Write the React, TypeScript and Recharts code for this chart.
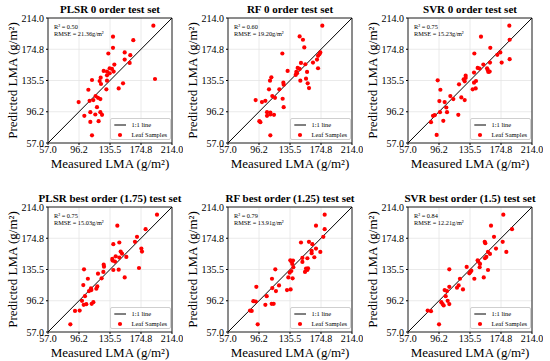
import {
  CartesianGrid,
  Label,
  Legend,
  ReferenceArea,
  ReferenceLine,
  Scatter,
  ScatterChart,
  XAxis,
  YAxis,
} from "recharts";

const FONT = '"Liberation Serif", "Times New Roman", serif';

// Shared axis: 57..214 split in four steps, labels as printed in the figure.
const TICKS = [57, 96.25, 135.5, 174.75, 214];
const TICK_LABELS = ["57.0", "96.2", "135.5", "174.8", "214.0"];

const plsr0Measured = [190.4, 192.5, 165.0, 139.3, 139.3, 154.1, 133.4, 161.2, 154.1, 160.4, 141.0, 135.1, 138.0, 127.5, 131.7, 140.1, 135.1, 131.7, 123.7, 122.4, 112.7, 131.7, 124.1, 152.0, 146.5, 130.9, 108.1, 117.3, 120.3, 123.3, 114.4, 109.7, 95.8, 119.0, 110.6, 123.3, 125.4, 116.9, 103.0, 121.1, 110.6, 112.7];
const plsr0Predicted = [204.4, 137.4, 186.2, 190.5, 176.6, 170.7, 169.4, 167.3, 161.8, 157.6, 155.5, 150.9, 150.0, 147.5, 146.7, 146.7, 144.6, 142.0, 139.1, 134.9, 136.1, 135.3, 131.1, 131.9, 125.6, 124.4, 123.9, 115.9, 113.8, 112.2, 110.9, 110.0, 108.4, 102.0, 95.7, 95.7, 92.4, 92.8, 91.1, 84.4, 83.5, 66.7];

const rf0Measured = [176.4, 147.7, 151.9, 153.6, 125.8, 173.9, 172.7, 171.0, 169.7, 164.6, 149.4, 154.9, 171.0, 145.2, 147.7, 132.5, 143.5, 144.4, 157.1, 142.7, 155.8, 148.6, 157.9, 159.6, 111.9, 110.2, 127.1, 127.5, 122.0, 108.9, 113.1, 116.5, 126.2, 104.3, 100.0, 92.0, 127.5, 106.4, 110.6, 106.4, 115.2, 110.6, 96.7, 98.0, 110.6];
const rf0Predicted = [204.4, 190.9, 186.7, 177.0, 169.4, 170.7, 168.6, 166.5, 161.8, 158.0, 157.6, 155.9, 150.9, 151.3, 150.0, 147.5, 146.3, 144.6, 146.3, 142.5, 137.8, 135.3, 131.9, 126.0, 139.5, 135.3, 132.8, 130.3, 124.4, 124.4, 115.9, 113.8, 112.6, 110.0, 108.4, 110.9, 102.0, 95.7, 95.3, 91.1, 92.4, 92.8, 84.4, 83.1, 66.7];

const svr0Measured = [185.3, 185.7, 185.7, 149.4, 161.2, 141.0, 173.9, 170.1, 175.6, 160.8, 152.4, 145.2, 147.7, 157.1, 157.9, 158.7, 160.4, 140.6, 130.0, 130.0, 127.5, 143.1, 140.6, 128.8, 121.6, 142.7, 138.9, 94.6, 98.0, 110.6, 114.4, 124.5, 128.8, 96.7, 103.4, 105.5, 97.5, 106.4, 90.8, 88.7, 120.7, 101.7, 86.1, 93.3];
const svr0Predicted = [204.4, 186.7, 162.3, 190.5, 176.6, 169.4, 170.7, 167.7, 158.0, 158.0, 155.5, 151.3, 150.5, 150.9, 148.8, 146.3, 146.7, 145.4, 141.6, 138.7, 137.0, 134.9, 132.8, 134.5, 130.7, 125.6, 124.4, 135.7, 123.9, 115.9, 112.2, 114.3, 110.9, 109.6, 108.4, 101.6, 95.7, 95.7, 91.9, 91.1, 92.4, 84.8, 83.1, 67.1];

const plsrBestMeasured = [195.0, 180.6, 144.8, 169.7, 167.1, 147.3, 139.7, 175.2, 176.0, 149.0, 150.7, 142.7, 156.2, 147.3, 138.4, 138.8, 141.8, 127.5, 127.9, 139.7, 146.5, 172.2, 102.6, 154.1, 120.3, 127.1, 124.9, 107.5, 101.7, 119.4, 118.2, 111.4, 111.9, 108.9, 103.8, 100.0, 102.2, 105.5, 112.3, 114.4, 91.2, 97.1, 85.3];
const plsrBestPredicted = [204.4, 186.2, 190.5, 176.6, 170.2, 169.4, 167.3, 161.8, 158.0, 158.0, 155.5, 152.1, 151.3, 150.5, 148.8, 146.7, 145.4, 141.6, 139.1, 134.9, 135.3, 137.4, 135.7, 125.6, 130.3, 132.4, 124.4, 123.9, 115.9, 114.3, 111.3, 111.7, 109.6, 108.4, 102.0, 96.2, 91.1, 91.9, 92.4, 94.5, 83.5, 83.9, 66.7];

const rfBestMeasured = [179.4, 179.4, 168.4, 177.7, 149.4, 159.5, 163.8, 168.4, 162.9, 162.9, 173.9, 166.3, 157.5, 151.2, 151.2, 135.9, 137.2, 139.3, 138.4, 139.7, 135.1, 137.2, 155.8, 158.3, 157.5, 154.5, 116.9, 133.4, 138.8, 112.7, 121.6, 113.1, 117.7, 131.7, 136.3, 92.9, 106.0, 89.1, 92.1, 104.3, 112.3, 114.8, 84.9, 87.0, 94.6];
const rfBestPredicted = [204.4, 186.2, 190.5, 176.6, 169.4, 170.2, 167.3, 161.8, 158.9, 156.0, 157.6, 150.9, 149.6, 150.0, 145.0, 147.1, 145.4, 146.7, 142.5, 138.3, 131.5, 133.6, 136.6, 137.0, 134.9, 132.4, 135.7, 125.6, 124.4, 123.9, 115.5, 112.2, 108.4, 109.6, 110.5, 113.8, 102.0, 95.7, 95.3, 91.1, 92.4, 92.4, 83.9, 83.5, 66.7];

const svrBestMeasured = [177.7, 188.7, 162.1, 165.9, 154.1, 154.9, 176.9, 168.4, 181.5, 158.3, 160.8, 156.2, 154.5, 145.2, 146.0, 148.2, 147.7, 158.3, 152.9, 131.3, 137.2, 134.7, 135.9, 141.0, 122.8, 109.3, 121.1, 119.0, 109.3, 126.6, 103.4, 106.4, 104.7, 107.2, 99.2, 100.8, 102.2, 109.3, 81.9, 86.1, 96.3];
const svrBestPredicted = [204.4, 186.2, 190.5, 176.6, 170.2, 168.6, 170.2, 161.8, 157.6, 157.6, 155.1, 151.3, 149.6, 147.1, 145.4, 142.5, 138.3, 134.9, 125.6, 138.7, 134.0, 130.7, 132.4, 123.9, 123.9, 135.7, 115.5, 112.6, 113.8, 110.5, 109.6, 108.4, 102.0, 96.2, 94.5, 92.1, 90.3, 92.1, 83.9, 83.1, 66.7];

const PANELS = [
  { title: "PLSR 0 order test set", r2: "0.50", rmse: "21.36", measured: plsr0Measured, predicted: plsr0Predicted, left: 0, top: 0 },
  { title: "RF 0 order test set", r2: "0.60", rmse: "19.20", measured: rf0Measured, predicted: rf0Predicted, left: 180, top: 0 },
  { title: "SVR 0 order test set", r2: "0.75", rmse: "15.23", measured: svr0Measured, predicted: svr0Predicted, left: 360, top: 0 },
  { title: "PLSR best order (1.75) test set", r2: "0.75", rmse: "15.03", measured: plsrBestMeasured, predicted: plsrBestPredicted, left: 0, top: 189 },
  { title: "RF best order (1.25) test set", r2: "0.79", rmse: "13.91", measured: rfBestMeasured, predicted: rfBestPredicted, left: 180, top: 189 },
  { title: "SVR best order (1.5) test set", r2: "0.84", rmse: "12.21", measured: svrBestMeasured, predicted: svrBestPredicted, left: 360, top: 189 },
];

const TICK_STYLE = { fontSize: 10, fill: "#000", fontFamily: FONT };
const AXIS_LABEL_STYLE = { fontSize: 13, fill: "#000", fontFamily: FONT };

function tickLabel(value: number): string {
  const i = TICKS.indexOf(value);
  return i >= 0 ? TICK_LABELS[i] : String(value);
}

function Dot(props: { cx?: number; cy?: number }) {
  return <circle cx={props.cx} cy={props.cy} r={2.1} fill="#ff0000" />;
}

function LegendBox() {
  return (
    <div
      style={{
        position: "relative",
        width: 61,
        height: 22,
        boxSizing: "border-box",
        border: "0.7px solid #cfcfcf",
        borderRadius: 2,
        background: "rgba(255,255,255,0.85)",
        fontFamily: FONT,
        fontSize: 6.5,
        color: "#000",
      }}
    >
      <svg width={18} height={22} style={{ position: "absolute", left: 0, top: 0 }}>
        <line x1={3.3} x2={15} y1={6} y2={6} stroke="#000" strokeWidth={1} />
        <circle cx={9} cy={16} r={2.1} fill="#ff0000" />
      </svg>
      <div style={{ position: "absolute", left: 20.5, top: 2, lineHeight: "8px", whiteSpace: "nowrap" }}>
        1:1 line
      </div>
      <div style={{ position: "absolute", left: 20.5, top: 12, lineHeight: "8px", whiteSpace: "nowrap" }}>
        Leaf Samples
      </div>
    </div>
  );
}

function Panel({ panel }: { panel: (typeof PANELS)[number] }) {
  const rows = panel.measured.map((m, i) => ({ measured: m, predicted: panel.predicted[i] }));
  return (
    <div style={{ position: "absolute", left: panel.left, top: panel.top, width: 183, height: 172 }}>
      <ScatterChart width={183} height={172} margin={{ top: 18, right: 11, bottom: 0, left: 8 }}>
        <CartesianGrid stroke="#e4e4e4" strokeWidth={0.8} />
        <XAxis
          type="number"
          dataKey="measured"
          domain={[57, 214]}
          ticks={TICKS}
          interval={0}
          tickFormatter={tickLabel}
          height={29}
          axisLine={false}
          tickSize={2}
          tickMargin={1}
          stroke="#000"
          tick={TICK_STYLE}
        >
          <Label value="Measured LMA (g/m²)" position="insideBottom" offset={4} style={AXIS_LABEL_STYLE} />
        </XAxis>
        <YAxis
          type="number"
          dataKey="predicted"
          domain={[57, 214]}
          ticks={TICKS}
          interval={0}
          tickFormatter={tickLabel}
          width={40}
          axisLine={false}
          tickSize={2}
          tickMargin={2}
          stroke="#000"
          tick={TICK_STYLE}
        >
          <Label
            value="Predicted LMA (g/m²)"
            angle={-90}
            position="insideLeft"
            offset={4}
            style={{ ...AXIS_LABEL_STYLE, textAnchor: "middle" }}
          />
        </YAxis>
        <ReferenceArea x1={57} x2={214} y1={57} y2={214} fill="none" stroke="#222" strokeWidth={1} />
        <ReferenceLine
          segment={[
            { x: 57, y: 57 },
            { x: 214, y: 214 },
          ]}
          stroke="#000"
          strokeWidth={1}
        />
        <Scatter data={rows} shape={Dot} isAnimationActive={false} />
        <Legend
          layout="vertical"
          align="center"
          verticalAlign="middle"
          wrapperStyle={{ left: 110, top: 118, width: 61, height: 22 }}
          content={() => <LegendBox />}
        />
      </ScatterChart>
      <div
        style={{
          position: "absolute",
          left: 0,
          top: 3,
          width: 220,
          textAlign: "center",
          fontFamily: FONT,
          fontWeight: "bold",
          fontSize: 11,
          lineHeight: "12px",
          whiteSpace: "nowrap",
        }}
      >
        {panel.title}
      </div>
      <div
        style={{
          position: "absolute",
          left: 54,
          top: 23,
          fontFamily: FONT,
          fontSize: 6.3,
          lineHeight: "7px",
          whiteSpace: "nowrap",
        }}
      >
        <div>R² = {panel.r2}</div>
        <div>RMSE = {panel.rmse}g/m²</div>
      </div>
    </div>
  );
}

export default function App() {
  return (
    <div style={{ position: "absolute", left: 0, top: 0, width: 550, height: 361, background: "#fff", overflow: "hidden" }}>
      {PANELS.map((panel) => (
        <Panel key={panel.title} panel={panel} />
      ))}
    </div>
  );
}
